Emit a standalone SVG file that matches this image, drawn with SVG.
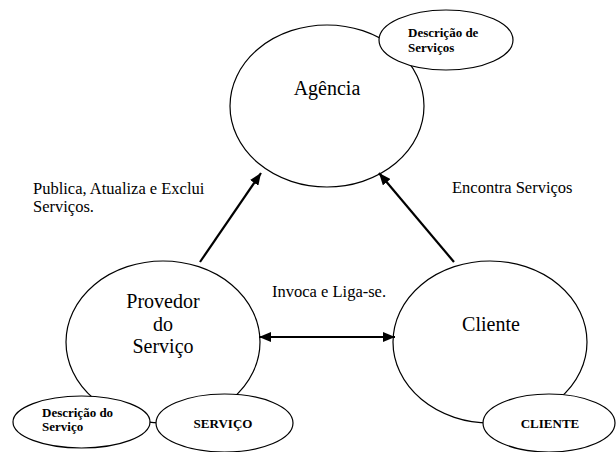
<svg xmlns="http://www.w3.org/2000/svg" width="616" height="452" viewBox="0 0 616 452">
<style>
.big{fill:#fff;stroke:#000;stroke-width:1.2}
.small{fill:#fff;stroke:#000;stroke-width:1.2}
.t{font-family:"Liberation Serif","Times New Roman",serif;fill:#000}
.n{font-size:20px;text-anchor:middle}
.lb{font-size:16.5px}
.b{font-size:13px;font-weight:bold}
.ar{stroke:#000;stroke-width:2.2;fill:none}
</style>
<defs>
<marker id="ah" viewBox="0 0 12 10" refX="12" refY="5" markerWidth="12" markerHeight="10" markerUnits="userSpaceOnUse" orient="auto-start-reverse">
<path d="M0,0 L12,5 L0,10 z" fill="#000"/>
</marker>
</defs>
<rect width="616" height="452" fill="#fff"/>
<g id="agencia">
<ellipse class="big" cx="327" cy="106" rx="97" ry="81"/>
<text class="t n" x="327" y="95">Agência</text>
</g>
<g id="descricao-servicos">
<ellipse class="small" cx="446" cy="40" rx="67" ry="30"/>
<text class="t b" x="408" y="37">Descrição de</text>
<text class="t b" x="408" y="52">Serviços</text>
</g>
<g id="provedor">
<ellipse class="big" cx="163" cy="342" rx="97" ry="81"/>
<text class="t n" x="163" y="308">Provedor</text>
<text class="t n" x="163" y="331">do</text>
<text class="t n" x="163" y="353">Serviço</text>
</g>
<g id="descricao-servico">
<ellipse class="small" cx="81.5" cy="422" rx="68.5" ry="26"/>
<text class="t b" x="42" y="417">Descrição do</text>
<text class="t b" x="42" y="431">Serviço</text>
</g>
<g id="servico">
<ellipse class="small" cx="224.5" cy="423" rx="68.5" ry="29"/>
<text class="t b" x="223" y="428" text-anchor="middle">SERVIÇO</text>
</g>
<g id="cliente">
<ellipse class="big" cx="490" cy="342" rx="97" ry="81"/>
<text class="t n" x="491" y="331">Cliente</text>
</g>
<g id="cliente-box">
<ellipse class="small" cx="549" cy="423" rx="66" ry="29"/>
<text class="t b" x="550" y="428" text-anchor="middle">CLIENTE</text>
</g>
<g id="connectors">
<line class="ar" x1="200" y1="262" x2="261" y2="173" marker-end="url(#ah)"/>
<line class="ar" x1="454" y1="262" x2="379" y2="173" marker-end="url(#ah)"/>
<line class="ar" x1="259" y1="337" x2="395" y2="337" marker-start="url(#ah)" marker-end="url(#ah)"/>
</g>
<g id="labels">
<text class="t lb" x="33" y="194">Publica, Atualiza e Exclui</text>
<text class="t lb" x="33" y="212">Serviços.</text>
<text class="t lb" x="452" y="193">Encontra Serviços</text>
<text class="t lb" x="272" y="297">Invoca e Liga-se.</text>
</g>
</svg>
